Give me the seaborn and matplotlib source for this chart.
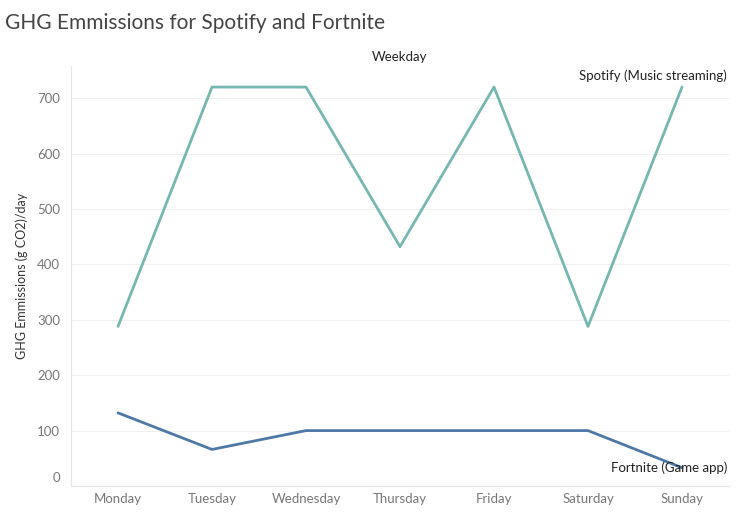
import matplotlib
matplotlib.use("Agg")
import matplotlib.pyplot as plt
import matplotlib.transforms as mtransforms
import seaborn as sns
import pandas as pd

days = ["Monday", "Tuesday", "Wednesday", "Thursday", "Friday", "Saturday", "Sunday"]
spotify = [288, 720, 720, 432, 720, 288, 720]
fortnite = [132, 66, 100, 100, 100, 100, 33]
series_names = ["Spotify (Music streaming)", "Fortnite (Game app)"]
yticks = [0, 100, 200, 300, 400, 500, 600, 700]

df = pd.DataFrame({
    "Weekday": days * 2,
    "value": spotify + fortnite,
    "series": [series_names[0]] * len(days) + [series_names[1]] * len(days),
})

sns.set_style("white")
plt.rcParams["font.family"] = ["Lato", "DejaVu Sans"]

fig = plt.figure(figsize=(7.51, 5.15), dpi=100)
ax = fig.add_axes([71 / 751, 1 - 486 / 515, (729 - 71) / 751, (486 - 66) / 515])

palette = {series_names[0]: "#76b7b2", series_names[1]: "#4e79a7"}
sns.lineplot(data=df, x="Weekday", y="value", hue="series", palette=palette,
             linewidth=2.0, ax=ax, legend=False, sort=False)

ax.set_xlim(-0.5, len(days) - 0.5)
ax.set_ylim(0, 758)
ax.set_yticks(yticks)
ax.set_yticklabels([str(t) for t in yticks])
ax.set_xticks(range(len(days)))
ax.set_xticklabels(days)
ax.set_xticks([i + 0.5 for i in range(len(days) - 1)], minor=True)

for s in ["top", "right"]:
    ax.spines[s].set_visible(False)
ax.spines["left"].set_color("#e6e6e6")
ax.spines["bottom"].set_color("#e6e6e6")
ax.spines["left"].set_linewidth(0.8)
ax.spines["bottom"].set_linewidth(0.8)

ax.grid(axis="y", color="#f0f0f0", linewidth=0.8)
ax.set_axisbelow(True)
ax.tick_params(axis="both", which="major", length=0, labelsize=9.5, colors="#777777")
ax.tick_params(axis="y", pad=8)
ax.tick_params(axis="x", pad=5)
ax.tick_params(axis="x", which="minor", length=4, color="#e6e6e6", width=0.8)

# Tableau-style: lift the "0" label above the baseline
lbl0 = ax.get_yticklabels()[0]
lbl0.set_transform(lbl0.get_transform() + mtransforms.ScaledTranslation(0, 9 / 100, fig.dpi_scale_trans))

ax.set_xlabel("")
ax.set_ylabel("GHG Emmissions (g CO2)/day", fontsize=9, color="#333333")
ax.yaxis.set_label_coords(-0.066, 0.5)

fig.text(400 / 751, 1 - 57 / 515, "Weekday", ha="center", va="center", fontsize=9.5, color="#222222")
fig.text(5 / 751, 1 - 23 / 515, "GHG Emmissions for Spotify and Fortnite", ha="left", va="center",
         fontsize=15, color="#444444")

tr = mtransforms.blended_transform_factory(fig.transFigure, ax.transData)
x_lab = 727 / 751
ax.text(x_lab, spotify[-1], series_names[0], transform=tr + mtransforms.ScaledTranslation(0, 11 / 100, fig.dpi_scale_trans),
        ha="right", va="center", fontsize=9.5, color="#222222")
ax.text(x_lab, fortnite[-1], series_names[1], transform=tr,
        ha="right", va="center", fontsize=9.5, color="#222222")

fig.savefig("out.png", dpi=100)
